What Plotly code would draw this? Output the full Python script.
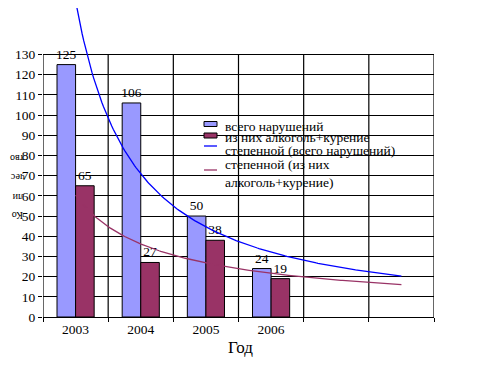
import numpy as np
import plotly.graph_objects as go

years = ["2003", "2004", "2005", "2006"]
total = [125, 106, 50, 24]
alc = [65, 27, 38, 19]
y_ticks = list(range(0, 131, 10))
n_cat = 6

names = ["всего нарушений", "из них алкоголь+курение",
         "степенной (всего нарушений)", "степенной (из них<br>алкоголь+курение)"]
y_title_parts = ["Ко", "ли", "чес", "тво"]
x_title = "Год"
bar_colors = ["#9999FF", "#993366"]
line_colors = ["#0000FF", "#993366"]

FONT = "Liberation Serif"
# page has an 8px body margin: size the figure so it fits the 481x374 window
OFF = 8
W, H = 481 - OFF, 374 - OFF
PL, PR, PT, PB = 43, 434, OFF, 317          # plot area in window pixels
ML, MR, MT, MB = PL - OFF, W - (PR - OFF), 0, H - (PB - OFF)
Y_TOP = y_ticks[-1] * (PB - PT) / (PB - 54.5)
x = np.arange(1, len(years) + 1)


def px_x(p):
    return (p - PL) / (PR - PL)


def px_y(p):
    return (PB - p) / (PB - PT)


def power_fit(xv, yv):
    b, ln_a = np.polyfit(np.log(xv), np.log(np.asarray(yv, float)), 1)
    return np.exp(ln_a), b


xt = np.linspace(1, n_cat, 200)
a1, b1 = power_fit(x, total)
a2, b2 = power_fit(x, alc)

fig = go.Figure()
for vals, nm, col in [(total, names[0], bar_colors[0]), (alc, names[1], bar_colors[1])]:
    fig.add_bar(x=x, y=vals, name=nm, showlegend=False,
                marker=dict(color=col, line=dict(color="black", width=1)),
                text=vals, textposition="outside", constraintext="none",
                textfont=dict(family=FONT, size=13.5, color="black"), cliponaxis=False)
fig.add_scatter(x=xt, y=a1 * xt ** b1, mode="lines", name=names[2], showlegend=False,
                line=dict(color=line_colors[0], width=1.3))
fig.add_scatter(x=xt, y=a2 * xt ** b2, mode="lines", name=names[3], showlegend=False,
                line=dict(color=line_colors[1], width=1.3))

shapes = []
for xb in np.arange(0.5, n_cat + 1, 1.0):
    shapes.append(dict(type="line", xref="x", yref="y", x0=xb, x1=xb, y0=0, y1=y_ticks[-1],
                       line=dict(color="black", width=1.2), layer="below"))

# manual legend (compact, like the original)
leg_sym_x0, leg_sym_x1, leg_text_x = 204, 217, 223
annotations = []
bar_rows = [124, 135.5]
for row, col, nm in zip(bar_rows, bar_colors, names[:2]):
    shapes.append(dict(type="rect", xref="paper", yref="paper",
                       x0=px_x(leg_sym_x0), x1=px_x(leg_sym_x1), y0=px_y(row + 2.5), y1=px_y(row - 2.5),
                       fillcolor=col, line=dict(color="black", width=1)))
    annotations.append(dict(text=nm, xref="paper", yref="paper", x=px_x(leg_text_x), y=px_y(row + 2),
                            xanchor="left", yanchor="middle", showarrow=False,
                            font=dict(family=FONT, size=13.5, color="black")))
line_rows = [146, 170]
text_rows = [150, 173]
for row, trow, col, nm in zip(line_rows, text_rows, line_colors, names[2:]):
    shapes.append(dict(type="line", xref="paper", yref="paper",
                       x0=px_x(leg_sym_x0), x1=px_x(leg_sym_x1), y0=px_y(row), y1=px_y(row),
                       line=dict(color=col, width=1.3)))
    annotations.append(dict(text=nm, xref="paper", yref="paper", x=px_x(leg_text_x), y=px_y(trow),
                            xanchor="left", yanchor="middle", showarrow=False, align="left",
                            font=dict(family=FONT, size=13.5, color="black")))

# y-axis title: upside-down, one syllable per line (first syllable at the bottom)
for i, part in enumerate(y_title_parts):
    annotations.append(dict(text=part, xref="paper", yref="paper", x=px_x(17.5), y=px_y(216 - 19 * i),
                            xanchor="center", yanchor="middle", showarrow=False, textangle=180,
                            borderpad=0, font=dict(family=FONT, size=10, color="black")))
annotations.append(dict(text=x_title, xref="paper", yref="paper", x=px_x(240), y=px_y(347),
                        xanchor="center", yanchor="middle", showarrow=False,
                        font=dict(family=FONT, size=17, color="black")))

fig.update_layout(
    width=W, height=H,
    margin=dict(l=ML, r=MR, t=MT, b=MB, autoexpand=False),
    paper_bgcolor="white", plot_bgcolor="white",
    barmode="group", bargap=0.43, bargroupgap=0,
    font=dict(family=FONT, color="black"),
    shapes=shapes,
    annotations=annotations,
    showlegend=False,
    xaxis=dict(range=[0.5, n_cat + 0.5], tickvals=list(x), ticktext=years, ticks="", automargin=False,
               showgrid=False, zeroline=False, showline=True, linecolor="black", linewidth=1.2,
               tickfont=dict(family=FONT, size=13.5, color="black"),
               minor=dict(tick0=0.5, dtick=1, ticks="outside", ticklen=4, tickcolor="black", tickwidth=1.2,
                          showgrid=False)),
    yaxis=dict(range=[0, Y_TOP], tickvals=y_ticks, ticks="outside", ticklen=4, tickcolor="black", tickwidth=1.2,
               showgrid=True, gridcolor="black", gridwidth=1.2, zeroline=False, showline=False, automargin=False,
               tickfont=dict(family=FONT, size=13.5, color="black")),
)

fig.write_html("out.html")
